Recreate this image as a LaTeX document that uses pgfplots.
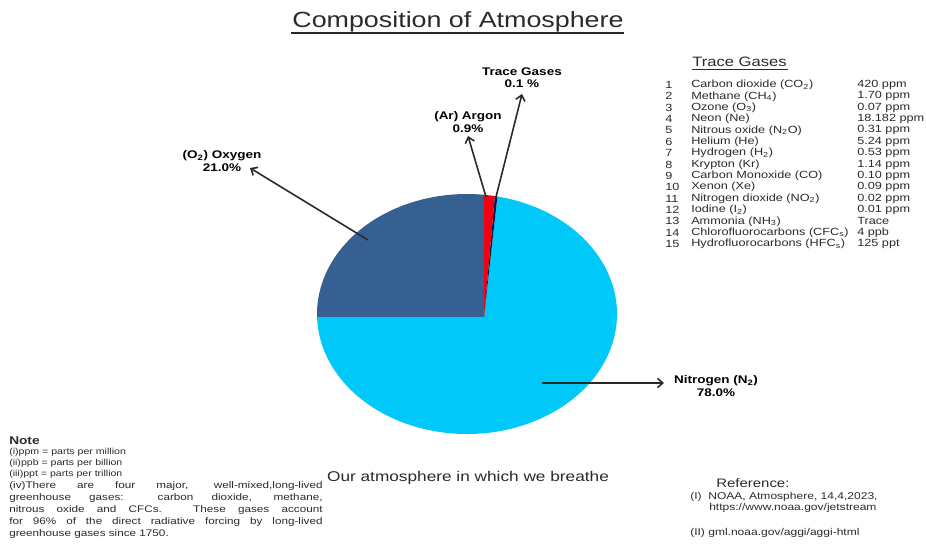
\documentclass[border=0pt]{standalone}
\usepackage{pgfplots}
\pgfplotsset{compat=1.18}
\usepackage{pgfplotstable}
\usepackage{fontspec}
\setmainfont{Liberation Sans}[FakeStretch=1.22]
\usetikzlibrary{arrows.meta}
\definecolor{nitro}{HTML}{00C8F8}
\definecolor{oxy}{HTML}{376092}
\definecolor{argon}{HTML}{F00010}
\definecolor{tracec}{HTML}{101848}
\definecolor{ink}{HTML}{2A2A2A}

% gas, share of atmosphere (%), wedge start/end angle (deg) as drawn in the reference
\pgfplotstableread{
gas      pct   tstart  tend
Nitrogen 78.0  78.3    -178.6
Oxygen   21.0  83.5    181.4
Argon    0.9   79.3    83.5
Trace    0.1   78.3    79.3
}\piedata

\newcommand\pct[1]{\pgfmathprintnumber[fixed,precision=1,fixed zerofill,assume math mode=true]{#1}}

\begin{document}
\begin{tikzpicture}
\pgfplotstablegetelem{0}{tstart}\of\piedata \edef\NitS{\pgfplotsretval}
\pgfplotstablegetelem{0}{tend}\of\piedata   \edef\NitE{\pgfplotsretval}
\pgfplotstablegetelem{0}{pct}\of\piedata    \edef\NitP{\pgfplotsretval}
\pgfplotstablegetelem{1}{tstart}\of\piedata \edef\OxyS{\pgfplotsretval}
\pgfplotstablegetelem{1}{tend}\of\piedata   \edef\OxyE{\pgfplotsretval}
\pgfplotstablegetelem{1}{pct}\of\piedata    \edef\OxyP{\pgfplotsretval}
\pgfplotstablegetelem{2}{tstart}\of\piedata \edef\ArS{\pgfplotsretval}
\pgfplotstablegetelem{2}{tend}\of\piedata   \edef\ArE{\pgfplotsretval}
\pgfplotstablegetelem{2}{pct}\of\piedata    \edef\ArP{\pgfplotsretval}
\pgfplotstablegetelem{3}{tstart}\of\piedata \edef\TrS{\pgfplotsretval}
\pgfplotstablegetelem{3}{tend}\of\piedata   \edef\TrE{\pgfplotsretval}
\pgfplotstablegetelem{3}{pct}\of\piedata    \edef\TrP{\pgfplotsretval}
\path (0,0) rectangle (694.5pt,411.75pt);
\begin{axis}[scale only axis, width=694.5pt, height=411.75pt,
  xmin=0, xmax=926, ymin=0, ymax=549, y dir=reverse, hide axis, clip=false]
\fill[nitro] (axis cs:484,317) -- (axis cs:{467+150*cos(\NitS)},{314-120*sin(\NitS)})
  arc[start angle=\NitS, end angle=\NitE, x radius=112.5pt, y radius=90pt] -- cycle;
\fill[oxy] (axis cs:484,317) -- (axis cs:{467+150*cos(\OxyS)},{314-120*sin(\OxyS)})
  arc[start angle=\OxyS, end angle=\OxyE, x radius=112.5pt, y radius=90pt] -- cycle;
\fill[argon] (axis cs:484,317) -- (axis cs:{467+150*cos(\ArS)},{314-120*sin(\ArS)})
  arc[start angle=\ArS, end angle=\ArE, x radius=112.5pt, y radius=90pt] -- cycle;
\fill[tracec] (axis cs:484,317) -- (axis cs:{467+150*cos(\TrS)},{314-120*sin(\TrS)})
  arc[start angle=\TrS, end angle=\TrE, x radius=112.5pt, y radius=90pt] -- cycle;
\end{axis}
\begin{scope}[shift={(0pt,411.75pt)}, x=0.75pt, y=-0.75pt]
\tikzset{arr/.style={ink, line width=1.2pt, -{Straight Barb[length=4pt,width=7pt]}},
  lab/.style={font=\fontsize{8.3}{9.2}\selectfont\bfseries, align=center, inner sep=0pt},
  tb/.style={font=\fontsize{7.8}{8}\selectfont, anchor=west, inner sep=0pt, text=ink},
  nt/.style={font=\fontsize{6.5}{7}\selectfont, anchor=west, inner sep=0pt, text=ink},
  np/.style={font=\fontsize{7.2}{8}\selectfont, anchor=west, inner sep=0pt, text=ink}}
% title
\node[font=\fontsize{16.5}{18}\selectfont, text=ink, inner sep=0pt] at (458,22) {Composition of Atmosphere};
\draw[ink, line width=0.9pt] (291,33) -- (624,33);
% arrows
\draw[arr] (368,240) -- (250,168);
\draw[arr] (486,197) -- (468,136);
\draw[arr] (496,197) -- (522,94);
\draw[arr] (542,383) -- (664,383);
% labels
\node[lab] at (222,161) {(O\textsubscript{2}) Oxygen\\\pct{\OxyP}\%};
\node[lab] at (468,122) {(Ar) Argon\\\pct{\ArP}\%};
\node[lab] at (522,78) {Trace Gases\\\pct{\TrP} \%};
\node[lab] at (716,386) {Nitrogen (N\textsubscript{2})\\\pct{\NitP}\%};
% trace gases table
\node[font=\fontsize{10.2}{11}\selectfont, anchor=west, inner sep=0pt, text=ink] at (692,62) {Trace Gases};
\draw[ink, line width=0.6pt] (692,69) -- (788,69);
\foreach \k/\n/\v in {1/Carbon dioxide (CO\textsubscript{2})/420 ppm,
  2/Methane (CH\textsubscript{4})/1.70 ppm,
  3/Ozone (O\textsubscript{3})/0.07 ppm,
  4/Neon (Ne)/18.182 ppm,
  5/Nitrous oxide (N\textsubscript{2}O)/0.31 ppm,
  6/Helium (He)/5.24 ppm,
  7/Hydrogen (H\textsubscript{2})/0.53 ppm,
  8/Krypton (Kr)/1.14 ppm,
  9/Carbon Monoxide (CO)/0.10 ppm,
  10/Xenon (Xe)/0.09 ppm,
  11/Nitrogen dioxide (NO\textsubscript{2})/0.02 ppm,
  12/Iodine (I\textsubscript{2})/0.01 ppm,
  13/Ammonia (NH\textsubscript{3})/Trace,
  14/Chlorofluorocarbons (CFC\textsubscript{s})/4 ppb,
  15/Hydrofluorocarbons (HFC\textsubscript{s})/125 ppt}{
  \pgfmathsetmacro\yy{85+(\k-1)*11.36}
  \node[tb] at (665,\yy) {\k};
  \node[tb] at (691,\yy) {\n};
  \node[tb] at (857,\yy) {\v};
}
% subtitle
\node[font=\fontsize{10.6}{12}\selectfont, text=ink, inner sep=0pt] at (468,478) {Our atmosphere in which we breathe};
% note
\node[font=\fontsize{8.4}{9}\selectfont\bfseries, anchor=west, inner sep=0pt, text=ink] at (9,441) {Note};
\node[nt] at (9,452) {(i)ppm = parts per million};
\node[nt] at (9,463) {(ii)ppb = parts per billion};
\node[nt] at (9,474) {(iii)ppt = parts per trillion};
\node[np] at (9,486) {\makebox[235pt][s]{(iv)There are four major, well-mixed,long-lived}};
\node[np] at (9,498) {\makebox[235pt][s]{greenhouse gases: carbon dioxide, methane,}};
\node[np] at (9,510) {\makebox[235pt][s]{nitrous oxide and CFCs. These gases account}};
\node[np] at (9,522) {\makebox[235pt][s]{for 96\% of the direct radiative forcing by long-lived}};
\node[np] at (9,534) {greenhouse gases since 1750.};
% reference
\node[font=\fontsize{9.2}{10}\selectfont, anchor=west, inner sep=0pt, text=ink] at (716,483) {Reference:};
\node[font=\fontsize{7.4}{8}\selectfont, anchor=west, inner sep=0pt, text=ink] at (690,497) {(I)\ \ NOAA, Atmosphere, 14,4,2023,};
\node[font=\fontsize{7.4}{8}\selectfont, anchor=west, inner sep=0pt, text=ink] at (709,508) {https://www.noaa.gov/jetstream};
\node[font=\fontsize{7.4}{8}\selectfont, anchor=west, inner sep=0pt, text=ink] at (690,533) {(II) gml.noaa.gov/aggi/aggi-html};
\end{scope}
\end{tikzpicture}
\end{document}
